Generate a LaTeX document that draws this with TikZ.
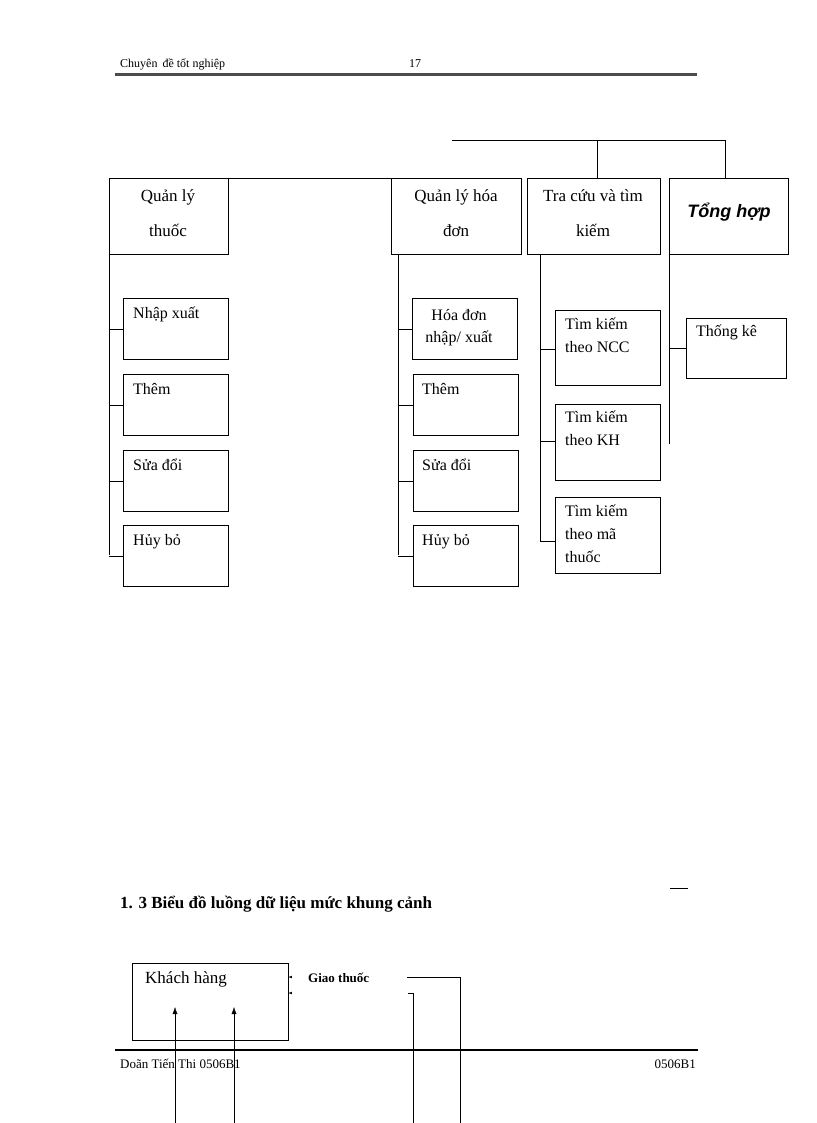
\documentclass[tikz,border=0pt]{standalone}
\usepackage{fontspec}
\setmainfont{Liberation Serif}
\newfontfamily\arialf{Liberation Sans}
\usetikzlibrary{arrows.meta}
\begin{document}
\begin{tikzpicture}[x=1pt,y=-1pt,
  bx/.style={draw,thin,align=center,inner sep=0pt},
  lbl/.style={font=\fontsize{16}{22}\selectfont,align=left,anchor=north west,inner sep=0pt},
  ln/.style={thin}]
\useasboundingbox (0,0) rectangle (816,1123);
% header
\node[anchor=base west,inner sep=0,font=\fontsize{12}{14}\selectfont] (h1) at (120,68) {Chuyên \,đề tốt nghiệp};
\node[anchor=base west,inner sep=0,font=\fontsize{12}{14}\selectfont] (h2) at (409,68) {17};
\draw[line width=2.5pt,gray!60!black] (115,74.5) -- (697,74.5);
% top boxes
\node[bx,minimum width=119,minimum height=76,anchor=north west] (A) at (109,178) {};
\node[bx,minimum width=130,minimum height=76,anchor=north west] (B) at (391,178) {};
\node[bx,minimum width=133,minimum height=76,anchor=north west] (C) at (527,178) {};
\node[bx,minimum width=119,minimum height=76,anchor=north west] (D) at (669,178) {};
\node[font=\fontsize{17}{35}\selectfont,align=center] at (168,213) {Quản lý\\thuốc};
\node[font=\fontsize{17}{35}\selectfont,align=center] at (456,213) {Quản lý hóa\\đơn};
\node[font=\fontsize{17}{35}\selectfont,align=center] at (593,213) {Tra cứu và tìm\\kiếm};
\node[font=\arialf\bfseries\itshape\fontsize{18}{22}\selectfont] at (729,212) {Tổng hợp};
\draw[ln] (A.north -| 165,0) |- (B.north -| 452,140) -- (B.north -| 452,0) (452,140) -- (725,140) -- (D.north -| 725,0);
\draw[ln] (597,140) -- (C.north -| 597,0);
% column A
\foreach \n/\y/\t in {a1/298/Nhập xuất,a2/374/Thêm,a3/450/Sửa đổi,a4/525/Hủy bỏ}{
  \node[bx,minimum width=105,minimum height=61,anchor=north west] (\n) at (123,\y) {};
  \node[lbl] at (133,\y+9) {\t};
}
\draw[ln] (109,254) -- (109,555);
\foreach \n in {a1,a2,a3,a4} \draw[ln] (\n.west) -- (109,0 |- \n.west);
% column B
\node[bx,minimum width=105,minimum height=61,anchor=north west] (b1) at (412,298) {};
\node[font=\fontsize{16}{22}\selectfont,align=center] at (459,328) {Hóa đơn\\nhập/ xuất};
\foreach \n/\y/\t in {b2/374/Thêm,b3/450/Sửa đổi,b4/525/Hủy bỏ}{
  \node[bx,minimum width=105,minimum height=61,anchor=north west] (\n) at (413,\y) {};
  \node[lbl] at (422,\y+9) {\t};
}
\draw[ln] (398,254) -- (398,555);
\foreach \n in {b1,b2,b3,b4} \draw[ln] (\n.west) -- (398,0 |- \n.west);
% column C
\node[bx,minimum width=105,minimum height=75,anchor=north west] (c1) at (555,310) {};
\node[lbl,font=\fontsize{16}{23}\selectfont] at (565,318) {Tìm kiếm\\theo NCC};
\node[bx,minimum width=105,minimum height=76,anchor=north west] (c2) at (555,404) {};
\node[lbl,font=\fontsize{16}{23}\selectfont] at (565,411) {Tìm kiếm\\theo KH};
\node[bx,minimum width=105,minimum height=76,anchor=north west] (c3) at (555,497) {};
\node[lbl,font=\fontsize{16}{23}\selectfont] at (565,505) {Tìm kiếm\\theo mã\\thuốc};
\draw[ln] (540,254) -- (540,541);
\foreach \n/\y in {c1/349,c2/441,c3/541} \draw[ln] (\n.west |- 0,\y) -- (540,\y);
% column D
\node[bx,minimum width=100,minimum height=60,anchor=north west] (d1) at (686,318) {};
\node[lbl] at (696,325) {Thống kê};
\draw[ln] (669,254) -- (669,444);
\draw[ln] (d1.west |- 0,348) -- (669,348);
% bottom section
\node[anchor=base west,inner sep=0,font=\bfseries\fontsize{17}{20}\selectfont] (ttl) at (120,908) {1. 3 Biểu đồ luồng dữ liệu mức khung cảnh};
\draw[ln] (670,888) -- (688,888);
\node[bx,minimum width=156,minimum height=77,anchor=north west] (kh) at (132,963) {};
\node[lbl,font=\fontsize{17}{22}\selectfont] at (145,971) {Khách hàng};
\node[anchor=west,inner sep=0,font=\bfseries\fontsize{13}{15}\selectfont] (gt) at (308,978) {Giao thuốc};
\coordinate (e1) at (298,977);
\coordinate (e2) at (298,993);
\draw[-{Latex[length=5pt,width=4pt]}] (e1) -- (kh.east |- e1);
\draw[-{Latex[length=5pt,width=4pt]}] (e2) -- (kh.east |- e2);
\fill[white] (291.5,974) rectangle (299,996);
\draw[ln] (407,977) -- (460,977) -- (460,1123);
\draw[ln] (408,993) -- (413,993) -- (413,1123);
\coordinate (u1) at (175,1123);
\coordinate (u2) at (234,1123);
\draw[-{Latex[length=7pt,width=5pt]}] (u1) -- (175,1007);
\draw[-{Latex[length=7pt,width=5pt]}] (u2) -- (234,1007);
% footer
\draw[line width=2pt] (115,1050) -- (698,1050);
\node[anchor=base west,inner sep=0,font=\fontsize{13}{15}\selectfont] (f1) at (120,1068) {Doãn Tiến Thi 0506B1};
\node[anchor=base east,inner sep=0,font=\fontsize{13}{15}\selectfont] (f2) at (696,1068) {0506B1};
\end{tikzpicture}
\end{document}
